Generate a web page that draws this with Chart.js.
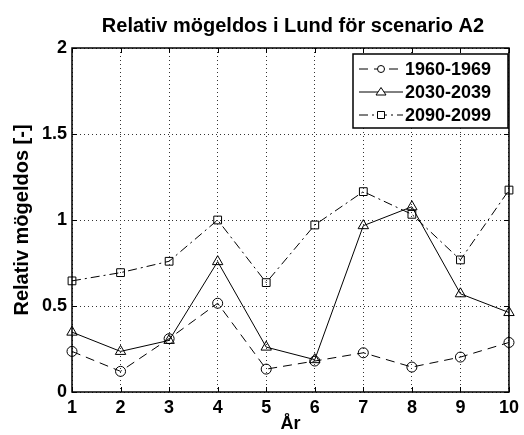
<!DOCTYPE html>
<html lang="sv">
<head>
    <meta charset="UTF-8">
    <title>Relativ mögeldos i Lund</title>
    <script src="https://cdn.jsdelivr.net/npm/chart.js"></script>
    <style>
        html, body { margin: 0; padding: 0; background: #fff; }
        .wrap { width: 524px; height: 435px; position: relative; }
    </style>
</head>
<body>
    <div class="wrap"><canvas id="moldChart"></canvas></div>

    <script>
        const years = ['1', '2', '3', '4', '5', '6', '7', '8', '9', '10'];
        const yTicks = [0, 0.5, 1, 1.5, 2];
        const s1960 = [0.236, 0.12, 0.31, 0.516, 0.133, 0.18, 0.228, 0.145, 0.203, 0.288];
        const s2030 = [0.348, 0.236, 0.30, 0.758, 0.261, 0.188, 0.967, 1.077, 0.571, 0.462];
        const s2090 = [0.646, 0.694, 0.76, 1.0, 0.636, 0.971, 1.165, 1.033, 0.768, 1.174];

        const FONT = 'Liberation Sans, Arial, sans-serif';

        // draws the frame, the inward ticks, the title and the boxed legend
        const matlabLook = {
            id: 'matlabLook',
            afterDraw(chart) {
                const ctx = chart.ctx;
                const a = chart.chartArea;
                const xs = chart.scales.x, ys = chart.scales.y;
                ctx.save();
                ctx.strokeStyle = '#000';
                ctx.lineWidth = 1;
                ctx.setLineDash([]);
                ctx.beginPath();
                for (let i = 0; i < years.length; i++) {
                    const px = Math.round(xs.getPixelForValue(i)) + 0.5;
                    ctx.moveTo(px, a.bottom); ctx.lineTo(px, a.bottom - 5);
                    ctx.moveTo(px, a.top); ctx.lineTo(px, a.top + 5);
                }
                yTicks.forEach(v => {
                    const py = Math.round(ys.getPixelForValue(v)) + 0.5;
                    ctx.moveTo(a.left, py); ctx.lineTo(a.left + 5, py);
                    ctx.moveTo(a.right, py); ctx.lineTo(a.right - 5, py);
                });
                ctx.stroke();
                ctx.lineWidth = 1.5;
                ctx.strokeRect(a.left, a.top, a.right - a.left, a.bottom - a.top);

                // title
                ctx.fillStyle = '#000';
                ctx.font = 'bold 20px ' + FONT;
                ctx.textAlign = 'center';
                ctx.textBaseline = 'middle';
                ctx.fillText('Relativ mögeldos i Lund för scenario A2', 293, 26);

                // legend
                const lx = 353, ly = 54, lw = 155, lh = 74;
                ctx.fillStyle = '#fff';
                ctx.fillRect(lx, ly, lw, lh);
                ctx.lineWidth = 1.5;
                ctx.strokeRect(lx, ly, lw, lh);
                ctx.font = 'bold 18px ' + FONT;
                ctx.textAlign = 'left';
                chart.data.datasets.forEach((ds, i) => {
                    const cy = ly + 15 + i * 23;
                    ctx.strokeStyle = '#000';
                    ctx.lineWidth = 1;
                    ctx.setLineDash(ds.borderDash || []);
                    ctx.beginPath();
                    ctx.moveTo(lx + 6, cy); ctx.lineTo(lx + 50, cy);
                    ctx.stroke();
                    ctx.setLineDash([]);
                    const mx = lx + 28;
                    ctx.fillStyle = '#fff';
                    ctx.beginPath();
                    if (ds.pointStyle === 'circle') {
                        ctx.arc(mx, cy, 3.5, 0, Math.PI * 2);
                    } else if (ds.pointStyle === 'triangle') {
                        ctx.moveTo(mx, cy - 4.5); ctx.lineTo(mx + 5, cy + 3); ctx.lineTo(mx - 5, cy + 3); ctx.closePath();
                    } else {
                        ctx.rect(mx - 3.5, cy - 3.5, 7, 7);
                    }
                    ctx.fill();
                    ctx.stroke();
                    ctx.fillStyle = '#000';
                    ctx.fillText(ds.label, lx + 52, cy + 1);
                });
                ctx.restore();
            }
        };

        const gridStyle = { color: '#333', lineWidth: 1, drawTicks: false };
        const dotted = { display: false, dash: [1, 3] };

        const ctx = document.getElementById('moldChart').getContext('2d');
        new Chart(ctx, {
            type: 'line',
            data: {
                labels: years,
                datasets: [
                    {
                        label: '1960-1969', data: s1960,
                        borderColor: '#000', borderWidth: 1, borderDash: [9, 6],
                        pointStyle: 'circle', pointRadius: 5,
                        pointBorderColor: '#000', pointBackgroundColor: 'rgba(0,0,0,0)', pointBorderWidth: 1
                    },
                    {
                        label: '2030-2039', data: s2030,
                        borderColor: '#000', borderWidth: 1,
                        pointStyle: 'triangle', pointRadius: 6,
                        pointBorderColor: '#000', pointBackgroundColor: 'rgba(0,0,0,0)', pointBorderWidth: 1
                    },
                    {
                        label: '2090-2099', data: s2090,
                        borderColor: '#000', borderWidth: 1, borderDash: [9, 4, 2, 4],
                        pointStyle: 'rect', pointRadius: 5.5,
                        pointBorderColor: '#000', pointBackgroundColor: 'rgba(0,0,0,0)', pointBorderWidth: 1
                    }
                ]
            },
            options: {
                responsive: true,
                maintainAspectRatio: false,
                animation: false,
                layout: { padding: { top: 48, right: 10, left: 0, bottom: 0 } },
                plugins: {
                    legend: { display: false },
                    tooltip: { enabled: false },
                    title: { display: false }
                },
                scales: {
                    x: {
                        offset: false,
                        grid: gridStyle,
                        border: dotted,
                        ticks: { color: '#000', font: { family: FONT, size: 18, weight: 'bold' }, padding: 5, maxRotation: 0 },
                        title: { display: true, text: 'År', color: '#000', font: { family: FONT, size: 18, weight: 'bold' }, padding: 0 },
                        afterFit(scale) { scale.height = 43; }
                    },
                    y: {
                        min: 0, max: 2,
                        afterBuildTicks(scale) { scale.ticks = yTicks.map(v => ({ value: v })); },
                        grid: gridStyle,
                        border: dotted,
                        ticks: { color: '#000', font: { family: FONT, size: 18, weight: 'bold' }, padding: 5, callback: v => String(v) },
                        title: { display: true, text: 'Relativ mögeldos [-]', color: '#000', font: { family: FONT, size: 20, weight: 'bold' }, padding: 10 },
                        afterFit(scale) { scale.width = 72; }
                    }
                }
            },
            plugins: [matlabLook]
        });
    </script>
</body>
</html>
